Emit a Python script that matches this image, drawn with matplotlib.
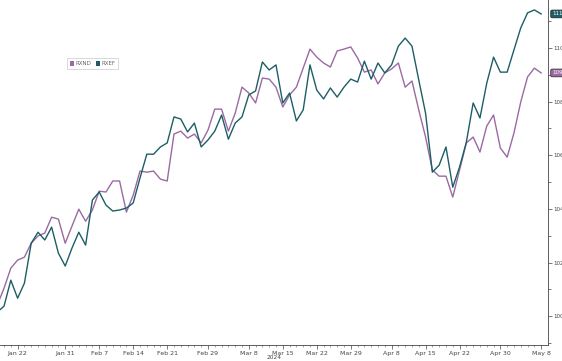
import numpy as np
import pandas as pd
import matplotlib.pyplot as plt
from matplotlib.patches import Patch
from matplotlib.ticker import MultipleLocator, FixedLocator

# business days shown on the chart (Jan 17 point is clipped at the left edge)
dates = pd.bdate_range('2024-01-17', '2024-05-08')

rxnd = [100.41, 101.04, 101.79, 102.09, 102.20, 102.72, 102.99, 103.10, 103.69, 103.62,
        102.72, 103.36, 103.99, 103.54, 103.96, 104.66, 104.63, 105.04, 105.04, 103.88,
        104.51, 105.41, 105.37, 105.41, 105.11, 105.04, 106.79, 106.90, 106.64, 106.79,
        106.46, 106.94, 107.72, 107.72, 106.90, 107.57, 108.54, 108.32, 107.95, 108.88,
        108.84, 108.54, 107.80, 108.25, 108.54, 109.25, 109.96, 109.66, 109.44, 109.29,
        109.89, 109.96, 110.04, 109.63, 109.10, 109.18, 108.66, 109.07, 109.22, 109.44,
        108.54, 108.77, 107.69, 106.68, 105.45, 105.22, 105.22, 104.44, 105.45, 106.46,
        106.68, 106.12, 107.09, 107.50, 106.27, 105.93, 106.83, 107.99, 108.92, 109.25,
        109.07]

rxef = [100.15, 100.37, 101.34, 100.67, 101.23, 102.72, 103.13, 102.84, 103.32, 102.35,
        101.87, 102.54, 103.13, 102.65, 104.33, 104.63, 104.14, 103.92, 103.96, 104.03,
        104.22, 105.15, 106.04, 106.04, 106.31, 106.46, 107.43, 107.35, 106.87, 107.20,
        106.31, 106.57, 106.90, 107.50, 106.60, 107.20, 107.43, 108.25, 108.40, 109.48,
        109.18, 109.37, 107.95, 108.32, 107.28, 107.69, 109.37, 108.43, 108.10, 108.51,
        108.17, 108.54, 108.84, 108.73, 109.51, 108.84, 109.44, 109.07, 109.37, 110.07,
        110.37, 110.07, 108.81, 107.57, 105.37, 105.63, 106.31, 104.81, 105.56, 106.49,
        107.95, 107.39, 108.69, 109.66, 109.10, 109.10, 109.93, 110.75, 111.31, 111.42,
        111.27]

tick_dates = ['2024-01-22', '2024-01-31', '2024-02-07', '2024-02-14', '2024-02-21',
              '2024-02-29', '2024-03-08', '2024-03-15', '2024-03-22', '2024-03-29',
              '2024-04-08', '2024-04-15', '2024-04-22', '2024-04-30', '2024-05-08']
tick_labels = ['Jan 22', 'Jan 31', 'Feb 7', 'Feb 14', 'Feb 21', 'Feb 29', 'Mar 8',
               'Mar 15', 'Mar 22', 'Mar 29', 'Apr 8', 'Apr 15', 'Apr 22', 'Apr 30', 'May 8']

purple = '#9a6aa3'
teal = '#1d5e66'

x = np.arange(len(dates))
pos = {d: i for i, d in enumerate(dates)}
tick_pos = [pos[pd.Timestamp(d)] for d in tick_dates]

fig = plt.figure(figsize=(5.62, 3.61), dpi=100)
ax = fig.add_axes([0.0, 0.044, 0.975, 0.956])

ax.plot(x, rxnd, color=purple, lw=1.0)
ax.plot(x, rxef, color=teal, lw=1.0)

ax.set_xlim(0.41, 81)
ax.set_ylim(98.92, 111.79)

ax.spines['top'].set_visible(False)
ax.spines['left'].set_visible(False)
ax.spines['right'].set_color('#444444')
ax.spines['bottom'].set_color('#444444')
ax.spines['right'].set_linewidth(0.6)
ax.spines['bottom'].set_linewidth(0.6)

ax.yaxis.tick_right()
ax.yaxis.set_major_locator(MultipleLocator(2))
ax.yaxis.set_minor_locator(MultipleLocator(1))
ax.yaxis.set_major_formatter(lambda v, p: f'{v:.2f}')
ax.tick_params(axis='y', which='major', labelsize=4, length=3, width=0.5,
               colors='#444444', pad=1.2)
ax.tick_params(axis='y', which='minor', length=2, width=0.5, colors='#444444')
for t in ax.get_yticklabels():
    t.set_family('Liberation Sans Narrow')

ax.xaxis.set_major_locator(FixedLocator(tick_pos))
ax.xaxis.set_minor_locator(FixedLocator(x))
ax.set_xticklabels(tick_labels, family='Liberation Sans Narrow')
ax.tick_params(axis='x', which='major', labelsize=4.5, length=3, width=0.5,
               colors='#444444', pad=1.0)
ax.tick_params(axis='x', which='minor', length=1.5, width=0.4, colors='#666666')

ax.text(0.5, -0.03, '2024', transform=ax.transAxes, ha='center', va='top',
        fontsize=4.2, color='#444444', family='Liberation Sans Narrow')

# end-of-series value tags on the right axis
for vals, col in [(rxef, teal), (rxnd, purple)]:
    ax.annotate(f'{vals[-1]:.2f}', xy=(1.0, vals[-1]), xycoords=('axes fraction', 'data'),
                xytext=(3, 0), textcoords='offset points', ha='left', va='center',
                fontsize=4, color='white', annotation_clip=False,
                family='Liberation Sans Narrow',
                bbox=dict(boxstyle='round,pad=0.25', fc=col, ec='#222222', lw=0.5))

handles = [Patch(facecolor=purple, edgecolor='none', label='RXND'),
           Patch(facecolor=teal, edgecolor='none', label='RXEF')]
leg = ax.legend(handles=handles, loc='upper left', bbox_to_anchor=(0.118, 0.84),
                ncol=2, fontsize=4, frameon=True, handlelength=0.7, handleheight=1.0,
                columnspacing=0.8, handletextpad=0.3, borderpad=0.5, fancybox=False)
leg.get_frame().set_edgecolor('#bbbbbb')
leg.get_frame().set_linewidth(0.5)
for t in leg.get_texts():
    t.set_color('#666666')

fig.savefig('out.png', dpi=100)
